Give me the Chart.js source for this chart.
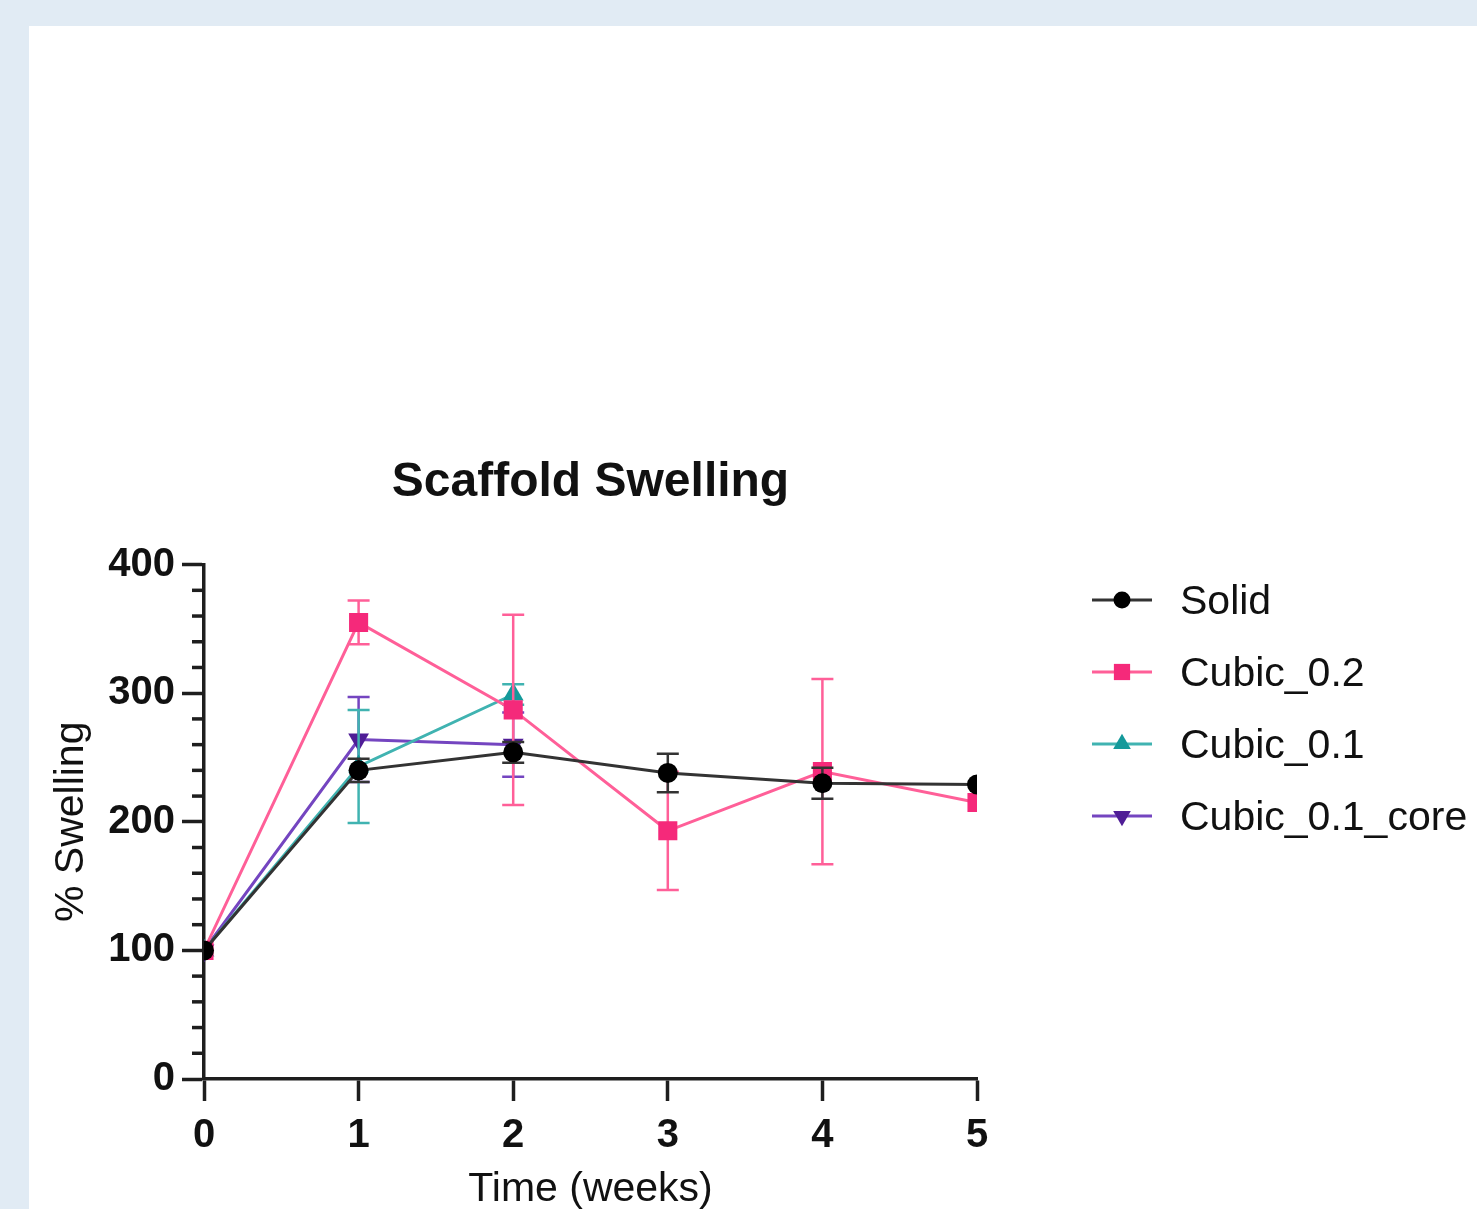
<!DOCTYPE html>
<html>
<head>
<meta charset="utf-8">
<title>Scaffold Swelling</title>
<script src="https://cdn.jsdelivr.net/npm/chart.js@4.4.1/dist/chart.umd.min.js"></script>
<style>
    html, body { margin: 0; padding: 0; background: #e1ebf4; overflow: hidden; }
    #panel { position: absolute; left: 29px; top: 26px; width: 1448px; height: 1230px; background: #fff; }
    canvas { display: block; }
</style>
</head>
<body>
<div id="panel"><canvas id="swellingChart" width="1448" height="1230"></canvas></div>
<script>
// Data
const weeks = [0, 1, 2, 3, 4, 5];
const seriesNames = ["Solid", "Cubic_0.2", "Cubic_0.1", "Cubic_0.1_core"];
const solid = [100, 240, 254, 238, 230, 229];
const solidErr = [0, 9, 8, 15, 12, 0];
const cubic02 = [100, 355, 287, 193, 239, 215];
const cubic02Err = [0, 17, 74, 46, 72, 0];
const cubic01 = [100, 243, 299];
const cubic01Err = [0, 44, 8];
const cubic01Core = [100, 264, 260];
const cubic01CoreErr = [0, 33, 25];
const yTicks = [0, 100, 200, 300, 400];
const yMinorStep = 20;

const FONT = "'Liberation Sans', Arial, Helvetica, sans-serif";
const AXIS_COLOR = "#1e1e1e";

function toPoints(values) {
    return values.map((v, i) => ({ x: weeks[i], y: v }));
}

// Error bars drawn just before each dataset, so markers sit on top
const errorBars = {
    id: "errorBars",
    beforeDatasetDraw(chart, args) {
        const ds = chart.data.datasets[args.index];
        const yScale = chart.scales.y;
        const ctx = chart.ctx;
        ctx.save();
        ctx.strokeStyle = ds.borderColor;
        ctx.lineWidth = 2.5;
        args.meta.data.forEach((pt, i) => {
            const e = ds.errors[i];
            if (!e) return;
            const v = ds.data[i].y;
            const top = yScale.getPixelForValue(v + e);
            const bot = yScale.getPixelForValue(v - e);
            ctx.beginPath();
            ctx.moveTo(pt.x, top); ctx.lineTo(pt.x, bot);
            ctx.moveTo(pt.x - 11, top); ctx.lineTo(pt.x + 11, top);
            ctx.moveTo(pt.x - 11, bot); ctx.lineTo(pt.x + 11, bot);
            ctx.stroke();
        });
        ctx.restore();
    }
};

// Short minor ticks on the y axis
const minorTicks = {
    id: "minorTicks",
    afterDraw(chart) {
        const yScale = chart.scales.y;
        const ctx = chart.ctx;
        ctx.save();
        ctx.strokeStyle = AXIS_COLOR;
        ctx.lineWidth = 3.5;
        for (let v = yScale.min; v <= yScale.max; v += yMinorStep) {
            if (yTicks.includes(v)) continue;
            const py = yScale.getPixelForValue(v);
            ctx.beginPath();
            ctx.moveTo(yScale.right - 12, py);
            ctx.lineTo(yScale.right, py);
            ctx.stroke();
        }
        ctx.restore();
    }
};

// Legend: line + marker + name, on the right
const sideLegend = {
    id: "sideLegend",
    afterDraw(chart) {
        const ctx = chart.ctx;
        ctx.save();
        chart.data.datasets.forEach((ds, i) => {
            const cy = 574 + i * 72;
            ctx.strokeStyle = ds.borderColor;
            ctx.lineWidth = 3;
            ctx.beginPath();
            ctx.moveTo(1063, cy);
            ctx.lineTo(1123, cy);
            ctx.stroke();
            ctx.fillStyle = ds.pointBackgroundColor;
            Chart.helpers.drawPoint(ctx, {
                pointStyle: ds.pointStyle,
                rotation: ds.pointRotation || 0,
                radius: ds.pointRadius * 0.85,
                borderWidth: 0
            }, 1093, cy);
            ctx.fillStyle = "#111";
            ctx.font = "41px " + FONT;
            ctx.textAlign = "left";
            ctx.textBaseline = "middle";
            ctx.fillText(seriesNames[i], 1151, cy + 3);
        });
        ctx.restore();
    }
};

const tickGrid = {
    drawOnChartArea: false,
    drawTicks: true,
    tickLength: 22,
    tickWidth: 3.5,
    tickColor: AXIS_COLOR
};

new Chart(document.getElementById("swellingChart"), {
    type: "line",
    data: {
        datasets: [
            {
                label: seriesNames[0], data: toPoints(solid), errors: solidErr,
                borderColor: "#333333", borderWidth: 3,
                pointStyle: "circle", pointRadius: 10, pointBackgroundColor: "#000000", pointBorderWidth: 0
            },
            {
                label: seriesNames[1], data: toPoints(cubic02), errors: cubic02Err,
                borderColor: "#ff5f98", borderWidth: 3,
                pointStyle: "rect", pointRadius: 13.5, pointBackgroundColor: "#f5297a", pointBorderWidth: 0
            },
            {
                label: seriesNames[2], data: toPoints(cubic01), errors: cubic01Err,
                borderColor: "#40b3b1", borderWidth: 3,
                pointStyle: "triangle", pointRadius: 12, pointBackgroundColor: "#14999a", pointBorderWidth: 0
            },
            {
                label: seriesNames[3], data: toPoints(cubic01Core), errors: cubic01CoreErr,
                borderColor: "#7445c0", borderWidth: 3,
                pointStyle: "triangle", pointRotation: 180, pointRadius: 12, pointBackgroundColor: "#4f1d96", pointBorderWidth: 0
            }
        ]
    },
    options: {
        responsive: false,
        animation: false,
        layout: { padding: { top: 428, right: 500, left: 0, bottom: 0 } },
        elements: { line: { tension: 0 } },
        plugins: {
            legend: { display: false },
            tooltip: { enabled: false },
            title: {
                display: true,
                text: "Scaffold Swelling",
                fullSize: false,
                color: "#111",
                font: { family: FONT, size: 48, weight: "bold" },
                padding: { top: 0, bottom: 53 }
            }
        },
        scales: {
            x: {
                type: "linear",
                min: 0,
                max: 5,
                afterBuildTicks: s => { s.ticks = weeks.map(v => ({ value: v })); },
                afterFit: s => { s.height = 177; },
                grid: tickGrid,
                border: { display: true, width: 3.5, color: AXIS_COLOR },
                ticks: { color: "#111", font: { family: FONT, size: 40, weight: "bold" }, padding: 11 },
                title: {
                    display: true, text: "Time (weeks)", color: "#111",
                    font: { family: FONT, size: 41 }, padding: { top: 0, bottom: 42 }
                }
            },
            y: {
                type: "linear",
                min: 0,
                max: 400,
                afterBuildTicks: s => { s.ticks = yTicks.map(v => ({ value: v })); },
                afterFit: s => { s.width = 175; },
                grid: tickGrid,
                border: { display: true, width: 3.5, color: AXIS_COLOR },
                ticks: { color: "#111", font: { family: FONT, size: 40, weight: "bold" }, padding: 7 },
                title: {
                    display: true, text: "% Swelling", color: "#111",
                    font: { family: FONT, size: 41 }, padding: { top: 18, bottom: 0 }
                }
            }
        }
    },
    plugins: [errorBars, minorTicks, sideLegend]
});
</script>
</body>
</html>
